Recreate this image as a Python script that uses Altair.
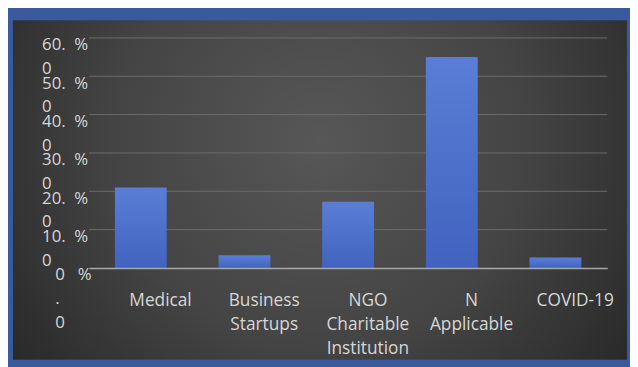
import altair as alt
import pandas as pd

categories = ["Medical", "Business Startups", "NGO / Charitable Institution", "Not Applicable", "COVID-19"]
label_lines = ["Medical", "Business|Startups", "NGO|Charitable|Institution", "N|Applicable", "COVID-19"]
shares = [0.21, 0.033, 0.173, 0.55, 0.027]
y_ticks = [0.0, 0.1, 0.2, 0.3, 0.4, 0.5, 0.6]
grid_ticks = [0.1, 0.2, 0.3, 0.4, 0.5, 0.6]

W, H = 525, 233
FONT = "Open Sans"
TXT = "#d6d6d6"

df = pd.DataFrame({"category": categories, "share": shares})
grid_df = pd.DataFrame({"share": grid_ticks})
bg_df = pd.DataFrame({"k": [0]})

mapping = "{" + ",".join(f"'{c}': '{l}'" for c, l in zip(categories, label_lines)) + "}"
x_label_expr = f"split({mapping}[datum.label], '|')"
nb = "\u00a0"
ind = "\u200b" + nb * 3
y_label_expr = (
    f"datum.value == 0 ? ['{ind}0{nb*2} %', '{ind}.', '{ind}0'] : "
    f"[format(datum.value*100, '.0f') + '.{nb} %', '0']"
)

y_axis = alt.Axis(title=None, values=y_ticks, grid=False, ticks=False,
                  domain=False, labelExpr=y_label_expr, labelAlign="left",
                  labelPadding=48, labelBaseline="top", labelLineHeight=24,
                  labelOffset=-1,
                  labelOverlap=False, labelFlush=False, labelFont=FONT,
                  labelFontSize=17, labelColor=TXT, zindex=1)
y_scale = alt.Scale(domain=[0, 0.6])

bg = alt.Chart(bg_df).mark_rect(
    color=alt.RadialGradient(
        gradient="radial", x1=0.5, y1=0.42, r1=0, x2=0.5, y2=0.42, r2=0.75,
        stops=[alt.GradientStop(offset=0, color="#575757"),
               alt.GradientStop(offset=0.45, color="#444444"),
               alt.GradientStop(offset=1, color="#1c1c1c")],
    )
).encode(x=alt.value(-77), x2=alt.value(545), y=alt.value(-18), y2=alt.value(326))

grid = alt.Chart(grid_df).mark_rule(color="#6c6c6c", strokeWidth=1).encode(
    y=alt.Y("share:Q", scale=y_scale, axis=y_axis),
    x=alt.value(0), x2=alt.value(W),
)

bars = alt.Chart(df).mark_bar(
    color=alt.LinearGradient(
        gradient="linear", x1=0, y1=0, x2=0, y2=1,
        stops=[alt.GradientStop(offset=0, color="#5a7ed6"),
               alt.GradientStop(offset=1, color="#4163bf")],
    )
).encode(
    x=alt.X("category:N", sort=categories,
            scale=alt.Scale(paddingInner=0.5, paddingOuter=0.25),
            axis=alt.Axis(title=None, labelAngle=0, labelExpr=x_label_expr,
                          labelOffset=20, labelPadding=24, labelBaseline="top",
                          labelLineHeight=24.5, ticks=False, domainColor="#a8a8a8",
                          domainWidth=1.5, labelFont=FONT, labelFontSize=17.5,
                          labelColor=TXT, zindex=1)),
    y=alt.Y("share:Q", scale=y_scale, axis=y_axis),
)

chart = alt.layer(bg, grid, bars).properties(
    width=W, height=H,
    autosize=alt.AutoSizeParams(type="none"),
    padding={"left": 82, "top": 28, "right": 23, "bottom": 98},
    background="#3a5a9c",
).configure_view(stroke=None)

chart.save("out.html", embed_options={"renderer": "svg", "actions": False})
